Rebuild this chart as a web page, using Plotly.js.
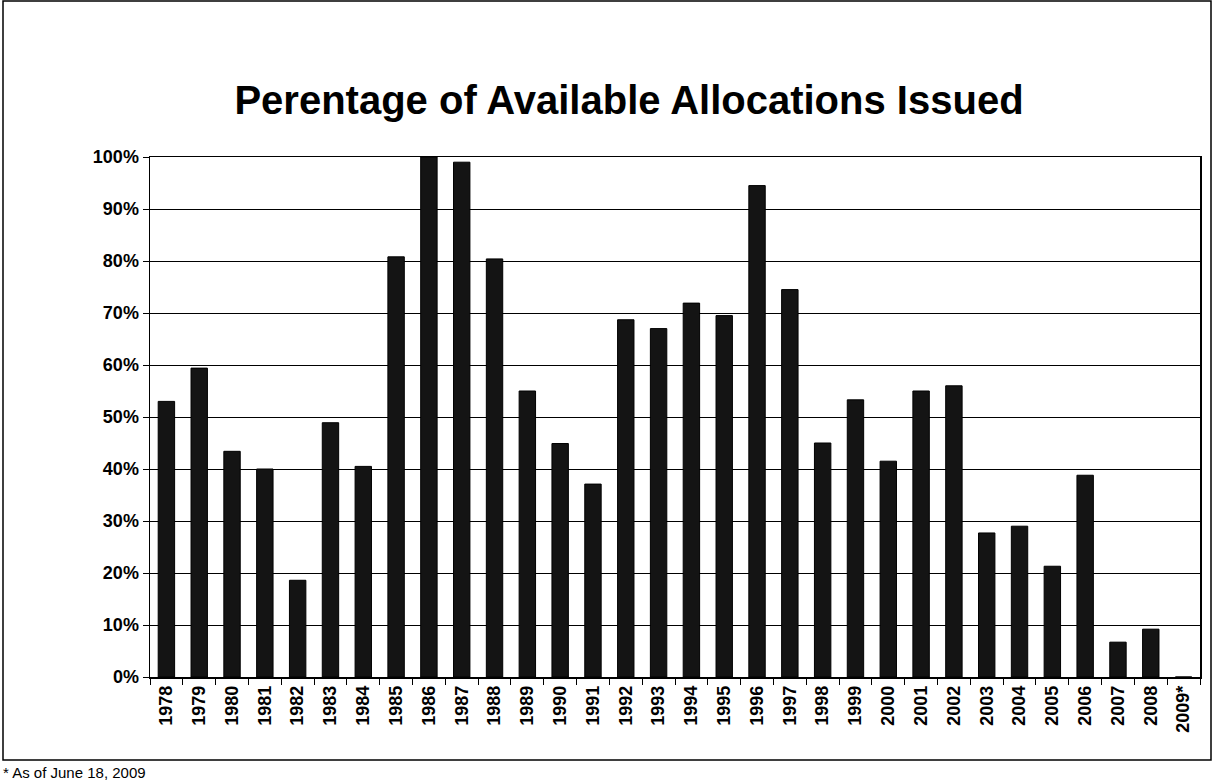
<!DOCTYPE html>
<html>
<head>
<meta charset="utf-8">
<script src="https://cdn.plot.ly/plotly-3.0.1.min.js"></script>
<style>
  html, body { margin: 0; padding: 0; background: #ffffff; }
  #chart { width: 1225px; height: 781px; }
</style>
</head>
<body>
<div id="chart"></div>
<script>
// ---- data ----
const years = ["1978","1979","1980","1981","1982","1983","1984","1985","1986","1987",
               "1988","1989","1990","1991","1992","1993","1994","1995","1996","1997",
               "1998","1999","2000","2001","2002","2003","2004","2005","2006","2007",
               "2008","2009*"];
const pctIssued = [53, 59.4, 43.4, 40, 18.6, 48.9, 40.5, 80.8, 100, 99,
                   80.4, 55, 44.9, 37.1, 68.7, 67, 71.9, 69.5, 94.5, 74.5,
                   45, 53.3, 41.5, 55, 56, 27.7, 29, 21.3, 38.8, 6.7,
                   9.2, 0];
const yTickVals = [0, 10, 20, 30, 40, 50, 60, 70, 80, 90, 100];
const yTickText = ["0%","10%","20%","30%","40%","50%","60%","70%","80%","90%","100%"];
const chartTitle = "Perentage of Available Allocations Issued";
const footnote = "* As of June 18, 2009";

// ---- layout geometry ----
const W = 1225, H = 781;
const mL = 150, mR = 25, mT = 157, mB = 104;
const plotW = W - mL - mR, plotH = H - mT - mB;
const px = x => (x - mL) / plotW;
const py = y => (H - mB - y) / plotH;

const font = "Liberation Sans, Arial, Helvetica, sans-serif";

const trace = {
  type: "bar",
  x: years,
  y: pctIssued,
  marker: { color: "#141414", line: { color: "#000000", width: 1 } },
  hoverinfo: "x+y"
};

const layout = {
  width: W, height: H,
  margin: { l: mL, r: mR, t: mT, b: mB, pad: 0 },
  paper_bgcolor: "#ffffff",
  plot_bgcolor: "#ffffff",
  showlegend: false,
  bargap: 0.5,
  font: { family: font, color: "#000000" },
  title: {
    text: "<b>" + chartTitle + "</b>",
    font: { family: font, size: 40, color: "#000000" },
    xref: "container", x: 629 / W, xanchor: "center",
    yref: "container", y: 1 - 100 / H, yanchor: "middle"
  },
  xaxis: {
    type: "category",
    tickangle: -90,
    tickfont: { family: font, size: 18, color: "#000000", weight: "bold" },
    ticks: "outside", ticklen: 6, tickcolor: "#000000", tickwidth: 1,
    tickson: "boundaries",
    showgrid: false,
    showline: true, linecolor: "#000000", linewidth: 1.5, mirror: true,
    zeroline: false
  },
  yaxis: {
    range: [0, 100],
    tickvals: yTickVals, ticktext: yTickText,
    tickfont: { family: font, size: 18, color: "#000000", weight: "bold" },
    ticks: "outside", ticklen: 6, tickcolor: "#000000", tickwidth: 1,
    showgrid: true, gridcolor: "#000000", gridwidth: 1,
    showline: true, linecolor: "#000000", linewidth: 1.5, mirror: true,
    zeroline: false,
    fixedrange: true
  },
  shapes: [
    { type: "rect", xref: "paper", yref: "paper",
      x0: px(3), x1: px(1211), y0: py(760), y1: py(1),
      line: { color: "#000000", width: 1.5 }, fillcolor: "rgba(0,0,0,0)", layer: "below" }
  ],
  annotations: [
    { text: footnote, showarrow: false,
      xref: "paper", yref: "paper", x: px(1), y: py(762),
      xanchor: "left", yanchor: "top",
      font: { family: font, size: 15, color: "#000000" } }
  ]
};

Plotly.newPlot("chart", [trace], layout, { staticPlot: true, displayModeBar: false });
</script>
</body>
</html>
